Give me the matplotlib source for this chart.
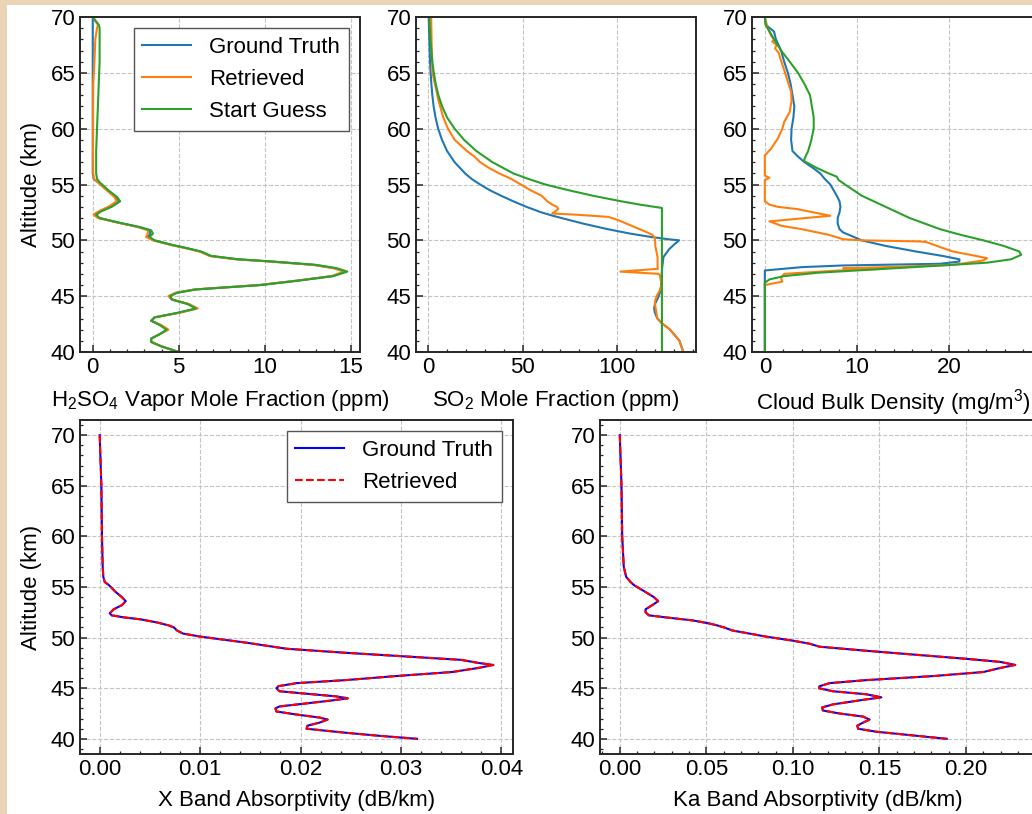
import matplotlib
matplotlib.use("Agg")
import matplotlib.pyplot as plt
from matplotlib.patches import Rectangle
from matplotlib.ticker import AutoMinorLocator, FormatStrFormatter

plt.rcParams['font.family'] = ['Liberation Sans', 'DejaVu Sans']
plt.rcParams['mathtext.default'] = 'regular'
plt.rcParams['font.size'] = 16

# ---- H2SO4 vapour (ppm) ----
h2so4_alt = [70, 69.3, 69, 68, 66, 64, 62, 60, 58, 56, 55.5, 55.2, 54.5, 53.9, 53.5, 53.0,
             52.6, 52.3, 52.0, 51.6, 51.2, 50.9, 50.6, 50.3, 50.0, 49.6, 49.3, 49.0, 48.6,
             48.3, 48.1, 47.8, 47.5, 47.2, 46.8, 46.4, 46.0, 45.6, 45.3, 45.0, 44.7, 44.3,
             43.9, 43.5, 43.1, 42.8, 42.4, 42.0, 41.6, 41.2, 40.9, 40.5, 40.0]
h2so4_truth = [0.0, 0.0, 0.0, 0.0, 0.0, 0.0, 0.0, 0.0, 0.0, 0.0, 0.05, 0.3, 0.85, 1.3, 1.5, 1.0,
               0.4, 0.1, 0.35, 1.45, 2.65, 3.3, 3.35, 3.2, 3.55, 4.55, 5.45, 6.25, 6.85,
               8.4, 10.4, 12.9, 14.1, 14.7, 13.95, 11.95, 9.75, 5.95, 4.85, 4.45, 4.6, 5.55,
               6.05, 4.95, 3.6, 3.4, 3.95, 4.35, 3.9, 3.4, 3.4, 4.0, 5.0]
h2so4_ret = [0.0, 0.3, 0.25, 0.15, 0.1, 0.03, 0.02, 0.02, 0.02, 0.03, 0.08, 0.3, 0.8, 1.25, 1.4, 0.9,
             0.35, 0.05, 0.3, 1.4, 2.6, 3.2, 3.2, 3.1, 3.5, 4.5, 5.4, 6.2, 6.8,
             8.3, 10.3, 12.8, 14.0, 14.6, 13.9, 11.9, 9.7, 5.9, 4.8, 4.4, 4.6, 5.6,
             6.1, 5.0, 3.6, 3.4, 4.0, 4.4, 3.9, 3.4, 3.4, 4.0, 5.0]
h2so4_guess = [0.0, 0.35, 0.4, 0.4, 0.4, 0.35, 0.3, 0.25, 0.2, 0.2, 0.25, 0.4, 0.9, 1.4, 1.6, 1.1,
               0.5, 0.2, 0.4, 1.5, 2.7, 3.4, 3.5, 3.3, 3.6, 4.6, 5.5, 6.3, 6.9,
               8.5, 10.5, 13.0, 14.2, 14.8, 14.0, 12.0, 9.8, 6.0, 4.9, 4.5, 4.6, 5.5,
               6.0, 4.9, 3.6, 3.4, 3.9, 4.3, 3.9, 3.4, 3.4, 4.0, 5.0]

# ---- SO2 (ppm) ----
so2_truth_alt = [70, 68, 66, 65, 64, 63, 62, 61, 60, 59, 58, 57, 56, 55.5, 55, 54.5, 54, 53.5,
                 53, 52.5, 52.2, 52, 51.5, 51, 50.6, 50.3, 50.1, 50.0, 49.6, 49.2, 48.5, 47.5,
                 46.5, 45.5, 44.8, 44.3, 43.9, 43.5, 43.0, 42.6, 42.0, 41.5, 41.0, 40.5, 40.0]
so2_truth = [0.3, 0.6, 1.0, 1.3, 1.7, 2.2, 2.9, 3.9, 5.3, 7.3, 10, 14, 19.5, 23, 27.5, 32.5, 38.5, 45,
             52, 60, 66, 70.5, 82, 95, 107, 118, 127, 132.8, 130, 127.5, 124.5, 123.8,
             123.5, 123, 121.5, 120, 119.6, 120, 121.3, 123.5, 128, 130.5, 133, 134, 135]
so2_ret_alt = [70, 67, 65, 62.5, 61, 60, 59, 58, 57.5, 57, 56.5, 56, 55.5, 55, 54.5, 54, 53.5,
               53.2, 53.0, 52.8, 52.6, 52.4, 52.3, 52.1, 51.8, 51.3, 50.8, 50.5, 50.2, 49.5,
               48.5, 47.6, 47.45, 47.2, 47.0, 46.9, 46.0, 45.5, 45.0, 44.5, 44.0, 43.5, 43.0,
               42.6, 42.0, 41.5, 41.0, 40.5, 40.0]
so2_ret = [1.6, 1.9, 2.3, 5.5, 8, 10.5, 14, 20.5, 24.5, 27.5, 32, 37.5, 44, 49, 54, 60, 63,
           65.6, 68.2, 68.8, 67.4, 65.6, 78, 95.4, 100.7, 107.7, 114.7, 118.6, 120, 120.2,
           121.4, 121.4, 121.6, 101.7, 121.8, 122.6, 123.5, 122.5, 120.9, 120, 120.3, 120.8, 121.3,
           123.5, 128, 130.5, 133, 134, 135]
so2_guess_alt = [70, 68, 66, 65, 64, 63, 62, 61, 60, 59, 58, 57, 56, 55.5, 55, 54.5, 54, 53.5,
                 53.2, 52.9, 40]
so2_guess = [0.65, 1.2, 2.2, 3.0, 4.0, 5.4, 7.4, 10, 14, 19, 25.5, 34, 45, 53, 62, 74, 87, 102,
             112, 123.7, 123.7]

# ---- cloud bulk density (mg/m3) ----
cloud_truth_alt = [70, 69.3, 68.7, 68, 67, 66, 65, 64, 63, 62, 61, 60, 59, 58, 57.5, 57, 56.5,
                   56, 55.5, 55, 54, 53.5, 53, 52.5, 52, 51.5, 51, 50.7, 50.5, 50, 49.5, 49,
                   48.6, 48.3, 48.1, 47.9, 47.75, 47.6, 47.3, 40]
cloud_truth = [0, 0.1, 1.0, 1.2, 1.76, 2.1, 2.5, 2.8, 3.0, 3.2, 3.1, 2.9, 2.85, 3.0, 3.6, 4.3, 5.2,
               6.0, 6.5, 7.1, 7.8, 8.1, 8.2, 8.1, 7.9, 7.9, 8.1, 8.5, 9.1, 10.5, 13.1, 16.4,
               19.3, 21.1, 21.1, 19, 8.5, 4, 0, 0]
cloud_ret_alt = [70, 69, 68.3, 68, 67.8, 67.5, 67.2, 66.8, 66, 65, 64.2, 63.3, 62.5, 61.5, 60.6,
                 60, 59.1, 58.2, 57.6, 55.8, 55.6, 55.4, 53.5, 53.2, 53.0, 52.8, 52.2, 51.7,
                 51.3, 51.0, 50.5, 50.1, 50.0, 49.9, 49.85, 49.4, 49.0, 48.7, 48.4, 48.2, 47.8,
                 47.6, 47.5, 47.45, 47.3, 47.0, 46.8, 46.6, 46.3, 46.0]
cloud_ret = [0, 0.3, 0.7, 1.0, 0.8, 1.3, 1.1, 1.5, 1.8, 2.2, 2.5, 2.86, 2.9, 2.7, 2.1,
             1.9, 1.4, 0.66, 0, 0, 0.5, 0, 0, 0.5, 1.4, 3.5, 7.1, 0.5,
             1.8, 4.0, 6.9, 8.5, 10.5, 16.8, 17.5, 19, 20.4, 22.3, 24.1, 23.7, 20.4,
             13.1, 8.5, 13.0, 8, 2.1, 1.9, 1.76, 1.9, 0]
cloud_guess_alt = [70, 69.3, 68, 67, 66, 65, 64, 63, 62, 61, 60, 59, 58, 57.3, 57.1, 56.9, 56.5,
                   56, 55.7, 55.4, 55, 54, 53, 52, 51, 50.5, 50, 49.5, 49, 48.7, 48.3, 48.0,
                   47.7, 47.4, 47.1, 46.8, 46.5, 46.2, 40]
cloud_guess = [0, 0.1, 1.0, 1.76, 2.7, 3.6, 4.3, 4.9, 5.1, 5.3, 5.3, 5.05, 4.7, 4.3, 4.25, 4.7, 5.6,
               6.9, 7.8, 8.0, 8.7, 10.5, 13.1, 15.7, 19.0, 21.2, 23.7, 25.9, 27.6, 27.8, 26.7, 24.1,
               18.2, 12, 5.8, 2.1, 0.5, 0, 0]

# ---- absorptivity (dB/km) ----
xband_alt = [70, 65, 60, 57, 56, 55.5, 55.2, 54.5, 54.0, 53.6, 53.2, 52.8, 52.4, 52.2, 52.0, 51.8,
             51.5, 51.2, 51.0, 50.7, 50.4, 50.1, 49.8, 49.5, 49.2, 48.9, 48.5, 48.1, 47.8, 47.5,
             47.3, 47.0, 46.6, 46.2, 45.8, 45.5, 45.2, 45.0, 44.7, 44.4, 44.2, 44.0, 43.8, 43.5,
             43.2, 43.0, 42.7, 42.4, 42.1, 41.9, 41.6, 41.3, 41.0, 40.8, 40.6, 40.3, 40.0]
xband = [0.0, 0.00017, 0.00023, 0.0003, 0.00036, 0.0005, 0.0009, 0.0016, 0.0022, 0.0026, 0.0022,
         0.0014, 0.001, 0.0012, 0.0024, 0.0041, 0.0057, 0.0069, 0.0074, 0.0077, 0.0083, 0.01,
         0.0123, 0.0146, 0.0166, 0.0186, 0.0245, 0.0311, 0.036, 0.0377, 0.0392, 0.0377, 0.0351,
         0.0295, 0.0245, 0.0196, 0.0178, 0.0176, 0.0179, 0.0212, 0.0235, 0.0247, 0.0232, 0.0206,
         0.0179, 0.0175, 0.0176, 0.0196, 0.0219, 0.0227, 0.0219, 0.0207, 0.0206, 0.0225, 0.0245,
         0.0278, 0.0316]
kaband_alt = [70, 65, 60, 57, 56, 55.5, 55.2, 54.5, 54.0, 53.6, 53.2, 52.8, 52.5, 52.2, 52.0, 51.7,
              51.4, 51.2, 51.0, 50.7, 50.4, 50.1, 49.7, 49.4, 49.1, 48.7, 48.3, 47.9, 47.6, 47.3,
              47.0, 46.6, 46.2, 45.8, 45.5, 45.2, 45.0, 44.7, 44.4, 44.1, 43.8, 43.4, 43.1, 42.8,
              42.5, 42.2, 41.9, 41.6, 41.3, 41.0, 40.7, 40.4, 40.0]
kaband = [0.0, 0.001, 0.0014, 0.0023, 0.0037, 0.0062, 0.0081, 0.0149, 0.0197, 0.0222, 0.0187,
          0.0149, 0.0149, 0.0168, 0.0265, 0.042, 0.0516, 0.0564, 0.0603, 0.0651, 0.0748, 0.0844,
          0.0999, 0.1096, 0.1154, 0.1424, 0.1714, 0.2004, 0.2197, 0.2284, 0.2197, 0.21, 0.181,
          0.1424, 0.1212, 0.1154, 0.115, 0.1231, 0.1424, 0.1511, 0.1385, 0.1231, 0.1169, 0.1173,
          0.127, 0.1405, 0.1443, 0.1405, 0.1372, 0.1376, 0.1482, 0.1656, 0.1888]

fig = plt.figure(figsize=(10.32, 8.14), dpi=100)
fig.patch.set_facecolor('#e9d5b6')
fig.add_artist(Rectangle((7 / 1032, 0), 1, 1 - 5 / 814, transform=fig.transFigure,
                         facecolor='white', edgecolor='none', zorder=-5))

W, H = 1032, 814
def px_axes(x0, y0, x1, y1):
    return fig.add_axes([x0 / W, 1 - y1 / H, (x1 - x0) / W, (y1 - y0) / H])

ax1 = px_axes(80, 17, 360, 352)
ax2 = px_axes(416, 17, 696, 352)
ax3 = px_axes(752, 17, 1034, 352)
ax4 = px_axes(80, 420, 513, 754)
ax5 = px_axes(600, 420, 1035, 754)

def style(ax):
    for s in ax.spines.values():
        s.set_color('#262626')
        s.set_linewidth(1.4)
    ax.xaxis.set_minor_locator(AutoMinorLocator(5))
    ax.yaxis.set_minor_locator(AutoMinorLocator(5))
    ax.tick_params(which='both', direction='in', colors='#262626', labelcolor='black',
                   labelsize=16)
    ax.tick_params(which='major', length=5, width=1.1)
    ax.tick_params(which='minor', length=2.5, width=0.9)
    ax.grid(True, which='major', linestyle='--', color='#c4c4c4', linewidth=0.8)
    ax.set_axisbelow(True)

lw = 1.5
ax1.plot(h2so4_truth, h2so4_alt, color='C0', lw=lw, label='Ground Truth')
ax1.plot(h2so4_ret, h2so4_alt, color='C1', lw=lw, label='Retrieved')
ax1.plot(h2so4_guess, h2so4_alt, color='C2', lw=lw, label='Start Guess')
ax1.set_ylim(40, 70)
ax1.set_xlabel('H$_2$SO$_4$ Vapor Mole Fraction (ppm)', labelpad=7)
ax1.set_ylabel('Altitude (km)', labelpad=6)
ax1.legend(loc='upper right', fancybox=False, edgecolor='#555555', framealpha=1,
           handlelength=2.2, handletextpad=0.8, fontsize=16, borderaxespad=0.5)

ax2.plot(so2_truth, so2_truth_alt, color='C0', lw=lw)
ax2.plot(so2_ret, so2_ret_alt, color='C1', lw=lw)
ax2.plot(so2_guess, so2_guess_alt, color='C2', lw=lw)
ax2.set_ylim(40, 70)
ax2.set_xlabel('SO$_2$ Mole Fraction (ppm)', labelpad=7)

ax3.plot(cloud_truth, cloud_truth_alt, color='C0', lw=lw)
ax3.plot(cloud_ret, cloud_ret_alt, color='C1', lw=lw)
ax3.plot(cloud_guess, cloud_guess_alt, color='C2', lw=lw)
ax3.set_ylim(40, 70)
ax3.set_xlabel('Cloud Bulk Density (mg/m$^3$)', labelpad=7)

ax4.plot(xband, xband_alt, 'b-', lw=lw, label='Ground Truth')
ax4.plot(xband, xband_alt, 'r--', lw=lw, label='Retrieved')
ax4.set_xlabel('X Band Absorptivity (dB/km)', labelpad=7)
ax4.set_ylabel('Altitude (km)', labelpad=6)
ax4.legend(loc='upper right', fancybox=False, edgecolor='#555555', framealpha=1,
           handlelength=2.2, handletextpad=0.8, fontsize=16, borderaxespad=0.5)

ax5.plot(kaband, kaband_alt, 'b-', lw=lw)
ax5.plot(kaband, kaband_alt, 'r--', lw=lw)
ax5.set_xlabel('Ka Band Absorptivity (dB/km)', labelpad=7)

ax4.xaxis.set_major_formatter(FormatStrFormatter('%.2f'))
ax5.xaxis.set_major_formatter(FormatStrFormatter('%.2f'))

for ax in [ax1, ax2, ax3, ax4, ax5]:
    style(ax)

fig.savefig('out.png', dpi=100, facecolor=fig.get_facecolor())
